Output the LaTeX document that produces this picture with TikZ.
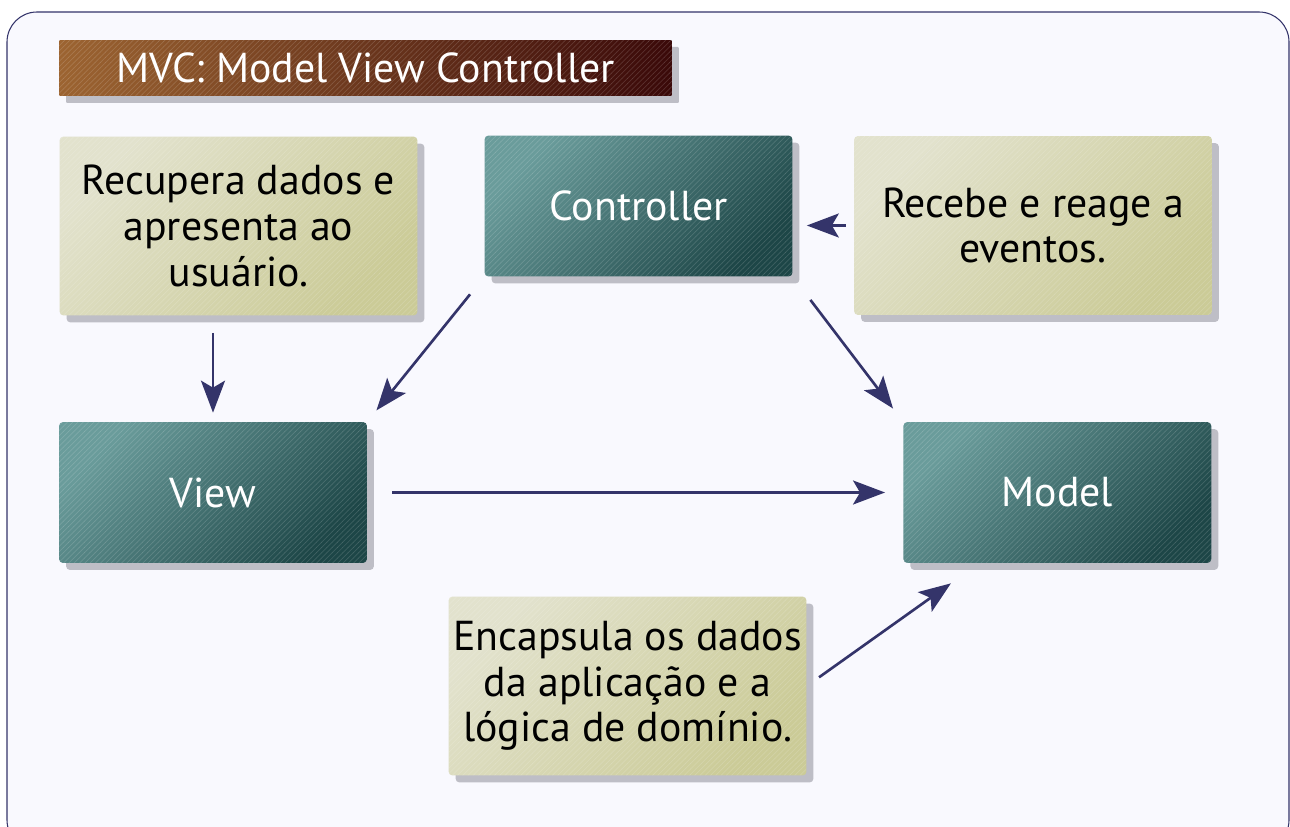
\documentclass[tikz,border=0pt]{standalone}
\usepackage{fontspec}
\setmainfont{PT Sans}
\usepackage{xcolor}
\usetikzlibrary{arrows.meta,shadows,patterns}

\definecolor{framebg}{HTML}{F9F9FE}
\definecolor{navy}{HTML}{34346A}
\definecolor{shade}{HTML}{BEBEC6}
\definecolor{tealA}{HTML}{6A9C9B}
\definecolor{tealB}{HTML}{1D4647}
\definecolor{noteA}{HTML}{E2E2CD}
\definecolor{noteB}{HTML}{CBCB97}
\definecolor{brownA}{HTML}{9C6431}
\definecolor{brownB}{HTML}{3A0909}

\begin{document}
\begin{tikzpicture}[x=0.02cm,y=-0.02cm,
 >={Stealth[length=0.64cm,width=0.48cm,inset=0.14cm]},
 font=\fontsize{23.8}{26}\selectfont,
 box/.style={rounded corners=0.08cm,align=center,inner sep=0pt,
  drop shadow={shadow xshift=0.14cm,shadow yshift=-0.14cm,fill=shade,opacity=1},
  postaction={pattern=north east lines,pattern color=white,opacity=0.14}},
 mvc/.style={box,text=white,minimum width=6.16cm,minimum height=2.82cm,
  top color=tealA,bottom color=tealB,shading angle=45},
 note/.style={box,minimum width=7.16cm,minimum height=3.58cm,
  top color=noteA,bottom color=noteB,shading angle=45},
 flow/.style={->,draw=navy,line width=1.5pt}]
 \useasboundingbox (0,0) rectangle (1290,827);
 \draw[navy,line width=0.6pt,fill=framebg,rounded corners=0.6cm] (7,12) rectangle (1289,850);

 \node[box,text=white,minimum width=12.26cm,minimum height=1.12cm,rounded corners=0.02cm,
  left color=brownA,right color=brownB] (title) at (365.5,68) {MVC: Model View Controller};

 \node[note] (recup) at (238.5,226) {Recupera dados e\\apresenta ao\\usuário.};
 \node[mvc] (ctrl) at (638.5,206) {Controller};
 \node[note] (recebe) at (1033,225.5) {Recebe e reage a\\eventos.};
 \node[mvc] (view) at (213,492.5) {View};
 \node[mvc] (model) [right of=view,node distance=16.89cm] {Model};
 \node[note] (encap) at (627.5,686) {Encapsula os dados\\da aplicação e a\\lógica de domínio.};

 \draw[flow,shorten <=0.34cm,shorten >=0.18cm] (recup.south -| view.north) -- (view.north);
 \draw[flow,shorten <=0.45cm,shorten >=0.29cm] (ctrl.south west) -- (view.north east);
 \draw[flow,shorten <=0.58cm,shorten >=0.33cm] (ctrl.south east) -- (model.north west);
 \draw[flow,shorten <=0.16cm,shorten >=0.28cm] (recebe.west) -- (recebe.west -| ctrl.east);
 \draw[flow,shorten <=0.5cm,shorten >=0.36cm] (view.east) -- (model.west);
 \draw[flow,shorten <=0.3cm,shorten >=0.69cm] (encap.east) -- ([xshift=1.52cm]model.south west);
\end{tikzpicture}
\end{document}
